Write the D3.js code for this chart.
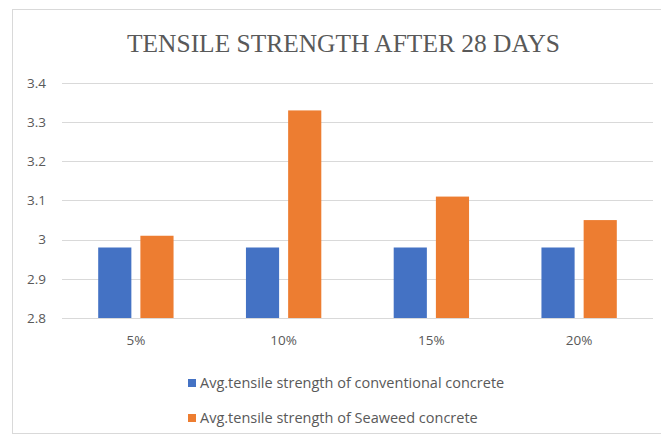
<!DOCTYPE html>
<html>
<head>
<meta charset="utf-8">
<script src="https://cdn.jsdelivr.net/npm/d3@7/dist/d3.min.js"></script>
<style>
  html, body { margin: 0; padding: 0; background: #fff; }
  svg { display: block; }
</style>
</head>
<body>
<svg id="chart" width="661" height="437"></svg>
<script>
// Tensile strength (MPa) after 28 days, by seaweed replacement level
const categories = ["5%", "10%", "15%", "20%"];
const seriesNames = [
  "Avg.tensile strength of conventional concrete",
  "Avg.tensile strength of Seaweed concrete"
];
const conventional = [2.98, 2.98, 2.98, 2.98];
const seaweed = [3.01, 3.33, 3.11, 3.05];
const yTicks = [2.8, 2.9, 3.0, 3.1, 3.2, 3.3, 3.4];
const colors = ["#4472c4", "#ed7d31"];

const rows = categories.map((c, i) => ({ cat: c, values: [conventional[i], seaweed[i]] }));

const svg = d3.select("#chart");
const textColor = "#595959";
const font = "'Open Sans', 'Noto Sans', sans-serif";

// chart frame
svg.append("rect")
  .attr("x", 12.5).attr("y", 9.5)
  .attr("width", 660).attr("height", 424)
  .attr("fill", "#fff")
  .attr("stroke", "#d9d9d9").attr("stroke-width", 1);

// title, sized to span about 433px
const title = svg.append("text")
  .attr("x", 343.5).attr("y", 51.5)
  .attr("text-anchor", "middle")
  .style("font-family", "'Liberation Serif', 'Times New Roman', serif")
  .style("font-size", "25px")
  .attr("fill", textColor)
  .text("TENSILE STRENGTH AFTER 28 DAYS");
const tw = title.node().getComputedTextLength();
title.style("font-size", (25 * 433 / tw).toFixed(2) + "px");

const plot = { left: 62, right: 653, top: 83, bottom: 318 };

const y = d3.scaleLinear().domain([2.8, 3.4]).range([plot.bottom, plot.top]);
const x0 = d3.scaleBand().domain(categories)
  .range([plot.left, plot.right]).paddingInner(0.49).paddingOuter(0.245);
const x1 = d3.scaleBand().domain([0, 1])
  .range([0, x0.bandwidth()]).paddingInner(0.214);

// gridlines
svg.append("g")
  .selectAll("line").data(yTicks).join("line")
  .attr("x1", plot.left).attr("x2", plot.right)
  .attr("y1", d => Math.round(y(d)) + 0.5).attr("y2", d => Math.round(y(d)) + 0.5)
  .attr("stroke", "#d9d9d9").attr("stroke-width", 1);

// y axis labels
const yAxis = d3.axisLeft(y).tickValues(yTicks).tickSize(0).tickPadding(0)
  .tickFormat(d => d3.format("")(+d.toFixed(1)));
svg.append("g")
  .attr("transform", `translate(46,0)`)
  .call(yAxis)
  .call(g => g.select(".domain").remove())
  .call(g => g.selectAll("text")
    .style("font-family", font).style("font-size", "13.5px").attr("fill", textColor));

// x axis labels
const xAxis = d3.axisBottom(x0).tickSize(0).tickPadding(0);
svg.append("g")
  .attr("transform", `translate(0,335)`)
  .call(xAxis)
  .call(g => g.select(".domain").remove())
  .call(g => g.selectAll("text")
    .style("font-family", font).style("font-size", "13.5px").attr("fill", textColor));

// bars
const groups = svg.append("g").selectAll("g").data(rows).join("g")
  .attr("transform", d => `translate(${x0(d.cat)},0)`);
groups.selectAll("rect").data(d => d.values.map((v, k) => ({ k, v }))).join("rect")
  .attr("x", d => x1(d.k))
  .attr("width", x1.bandwidth())
  .attr("y", d => y(d.v))
  .attr("height", d => y(2.8) - y(d.v))
  .attr("fill", d => colors[d.k]);

// legend
const legend = svg.append("g").selectAll("g").data(seriesNames).join("g")
  .attr("transform", (d, i) => `translate(188,${383 + i * 35})`);
legend.append("rect")
  .attr("x", 0).attr("y", -4).attr("width", 8).attr("height", 8)
  .attr("fill", (d, i) => colors[i]);
legend.append("text")
  .attr("x", 12).attr("y", 0).attr("dy", "0.35em")
  .style("font-family", font).style("font-size", "14.5px")
  .attr("fill", textColor)
  .text(d => d);
</script>
</body>
</html>
